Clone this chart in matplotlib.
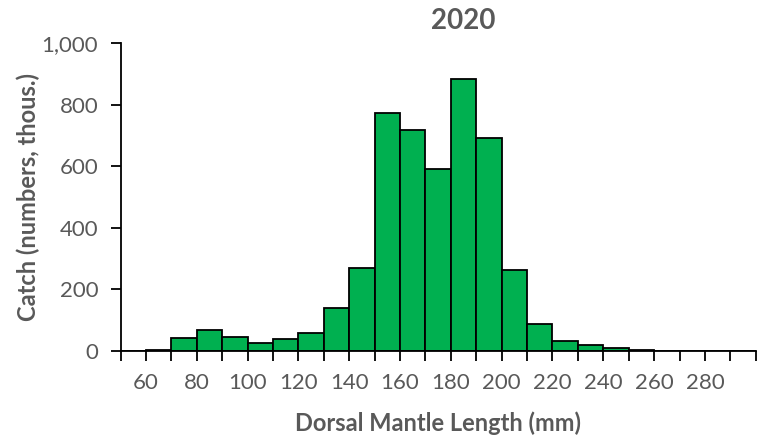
import matplotlib.pyplot as plt
import numpy as np

# bin starts (mm) and catch (numbers, thous.)
bin_start = [50, 60, 70, 80, 90, 100, 110, 120, 130, 140, 150, 160, 170, 180,
             190, 200, 210, 220, 230, 240, 250, 260, 270, 280, 290]
catch = [0, 3, 41, 67, 46, 27, 38, 57, 139, 271, 773, 718, 591, 884,
         692, 263, 89, 33, 21, 9, 2, 0, 0, 0, 0]
tick_labels = [str(v) for v in range(60, 300, 20)]

plt.rcParams['font.family'] = ['Lato', 'DejaVu Sans']
gray = '#595959'

fig = plt.figure(figsize=(7.58, 4.40), dpi=100)
ax = fig.add_axes([0.159, 0.2023, 0.838, 0.6997])

ax.bar(bin_start, catch, width=10, align='edge', color='#00B050',
       edgecolor='black', linewidth=1.3, zorder=2)

ax.set_xlim(50, 300)
ax.set_ylim(0, 1000)

# ticks every 10, labels only every 20 from 60 to 280
ax.set_xticks(np.arange(50, 301, 10))
ax.set_xticklabels(['' if (v < 60 or v > 280 or v % 20) else str(v)
                    for v in range(50, 301, 10)])
ax.set_yticks(range(0, 1001, 200))
ax.set_yticklabels(['0', '200', '400', '600', '800', '1,000'])

ax.tick_params(axis='x', direction='out', length=7, width=1.3, colors='black',
               labelcolor=gray, labelsize=16, pad=9)
ax.tick_params(axis='y', direction='out', length=7, width=1.3, colors='black',
               labelcolor=gray, labelsize=16, pad=9)

for side in ['top', 'right']:
    ax.spines[side].set_visible(False)
for side in ['left', 'bottom']:
    ax.spines[side].set_linewidth(1.3)

ax.set_xlabel('Dorsal Mantle Length (mm)', fontsize=17, fontweight='bold',
              color=gray, labelpad=13)
ax.set_ylabel('Catch (numbers, thous.)', fontsize=17, fontweight='bold',
              color=gray, labelpad=1)

fig.text(0.611, 0.952, '2020', ha='center', va='center', fontsize=20,
         fontweight='bold', color=gray)

fig.savefig('out.png', dpi=100)
